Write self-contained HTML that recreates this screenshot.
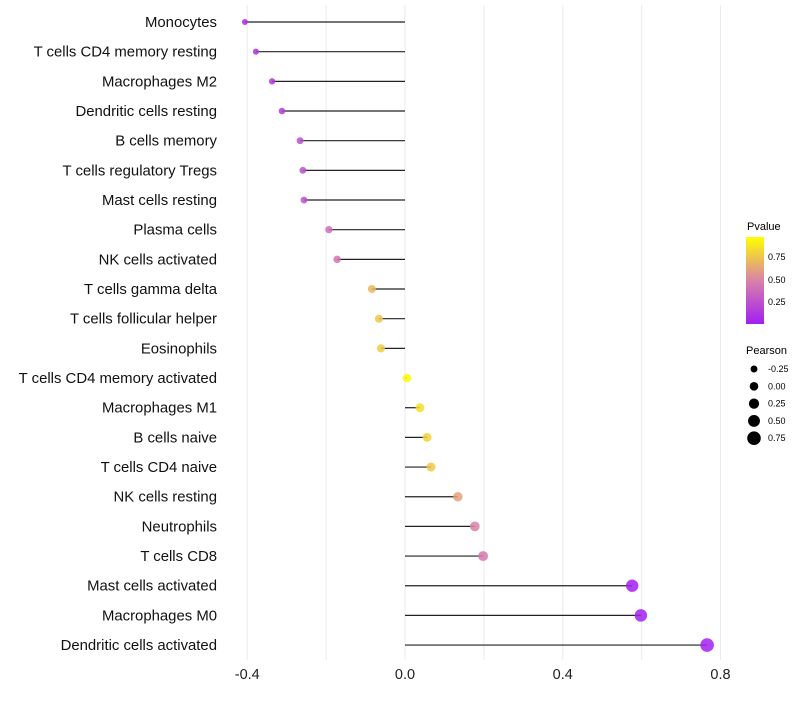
<!DOCTYPE html>
<html><head><meta charset="utf-8"><style>
body{margin:0;background:#fff;font-family:"Liberation Sans",sans-serif}
</style></head><body>
<svg id="chart" width="800" height="700" xmlns="http://www.w3.org/2000/svg" font-family="Liberation Sans, sans-serif">
<defs><linearGradient id="pg" x1="0" y1="1" x2="0" y2="0">
<stop offset="0" stop-color="#a21ff2"/><stop offset="0.5" stop-color="#d882a8"/><stop offset="1" stop-color="#ffff00"/></linearGradient></defs>
<g id="grid"></g><g id="marks"></g><g id="labels"></g>
<g>
<text x="747" y="230" font-size="11">Pvalue</text>
<rect x="746" y="237" width="18" height="87" fill="url(#pg)"/>
<text x="768" y="260" font-size="9">0.75</text>
<text x="768" y="283" font-size="9">0.50</text>
<text x="768" y="305" font-size="9">0.25</text>
<text x="746" y="354" font-size="11">Pearson</text>
<g id="sizeleg"></g>
</g>
</svg>
<script>
const categories=["Monocytes","T cells CD4 memory resting","Macrophages M2","Dendritic cells resting","B cells memory","T cells regulatory  Tregs","Mast cells resting","Plasma cells","NK cells activated","T cells gamma delta","T cells follicular helper","Eosinophils","T cells CD4 memory activated","Macrophages M1","B cells naive","T cells CD4 naive","NK cells resting","Neutrophils","T cells CD8","Mast cells activated","Macrophages M0","Dendritic cells activated"];
const pearson=[-0.406,-0.378,-0.337,-0.312,-0.266,-0.259,-0.256,-0.193,-0.172,-0.084,-0.066,-0.061,0.005,0.038,0.056,0.066,0.134,0.177,0.198,0.576,0.598,0.766];
const pvalue=[0.06,0.09,0.12,0.15,0.23,0.25,0.25,0.40,0.43,0.72,0.77,0.79,0.98,0.87,0.82,0.78,0.63,0.50,0.45,0.01,0.01,0.01];
const xTicks=[-0.4,0.0,0.4,0.8];
const sizeLegend=[-0.25,0,0.25,0.5,0.75];
const NS="http://www.w3.org/2000/svg";
const x=v=>405+v*394.4;
const y=i=>22+i*29.67;
const r=v=>4.3+3.3*v;
function lerp(a,b,t){return a.map((c,i)=>Math.round(c+(b[i]-c)*t));}
function col(p){const s=[[162,31,242],[216,130,168],[255,255,0]];const c=p<0.5?lerp(s[0],s[1],p/0.5):lerp(s[1],s[2],(p-0.5)/0.5);return `rgb(${c.join(',')})`;}
function mk(t,a,parent){const e=document.createElementNS(NS,t);for(const k in a)e.setAttribute(k,a[k]);parent.appendChild(e);return e;}
const grid=document.getElementById('grid'),marks=document.getElementById('marks'),labels=document.getElementById('labels');
for(let v=-0.4;v<=0.81;v+=0.2){const g=mk('line',{x1:x(v),x2:x(v),y1:5,y2:660,stroke:'#ebebeb','stroke-width':1},grid);

}
xTicks.forEach(v=>{const t=mk('text',{x:x(v),y:679,'font-size':14.5,'text-anchor':'middle',fill:'#222'},labels);t.textContent=v.toFixed(1);

});
categories.forEach((c,i)=>{
const t=mk('text',{x:217,y:y(i)+5,'font-size':14.9,'text-anchor':'end',fill:'#111','xml:space':'preserve'},labels);t.textContent=c;


const l=mk('line',{x1:x(0),x2:x(pearson[i]),y1:y(i),y2:y(i),stroke:'#222','stroke-width':1.2},marks);


const d=mk('circle',{cx:x(pearson[i]),cy:y(i),r:r(pearson[i]),fill:col(pvalue[i]),'fill-opacity':0.85},marks);


});
const sl=document.getElementById('sizeleg');
sizeLegend.forEach((v,i)=>{const cy=369+i*17.3;
const d=mk('circle',{cx:754,cy:cy,r:r(v),fill:'#000'},sl);


const t=mk('text',{x:768,y:cy+3,'font-size':9},sl);t.textContent=v.toFixed(2);

});
</script>
</body></html>
